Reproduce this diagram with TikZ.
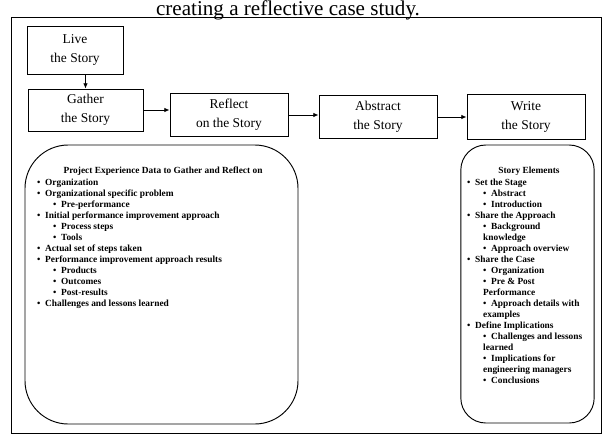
\documentclass[tikz,border=0pt]{standalone}
\usepackage{fontspec}
\setmainfont{Liberation Serif}
\usetikzlibrary{arrows.meta,positioning}
\newcommand{\lvlone}[1]{\textbullet\enspace#1}
\newcommand{\lvltwo}[1]{\hspace*{1.7em}\textbullet\enspace#1}
\newcommand{\lvlcont}[1]{\hspace*{1.7em}#1}

\begin{document}
\begin{tikzpicture}[x=.03cm,y=-.03cm,
    stage/.style={draw,thick,align=center,minimum width=3.54cm,
      minimum height=1.28cm,inner sep=2pt,font=\fontsize{11.5}{16}\selectfont},
    panel/.style={draw,thick},
    listtitle/.style={font=\fontsize{8}{9.4}\selectfont\bfseries},
    listtext/.style={align=left,anchor=north west,inner sep=0pt,
      font=\fontsize{8}{9.4}\selectfont\bfseries},
    flow/.style={-{Latex[length=4.5pt,width=4pt]},thick}]
  \useasboundingbox (0,0) rectangle (604,439);
  % Page frame and the caption line on its top edge.
  \draw[thick] (11,17) rectangle (601,433);
  \node[anchor=base,font=\fontsize{18}{20}\selectfont] (caption) at (288,15)
    {creating a reflective case study.};

  % The five steps of the story.
  \node[stage,minimum width=2.88cm,minimum height=1.44cm] (live) at (75,50)
    {Live\\the Story};
  \node[stage,minimum width=3.45cm,minimum height=1.26cm] (gather)
    at (85.5,110) {Gather\\the Story};
  \node[stage] (reflect) at (229,115) {Reflect\\on the Story};
  \node[stage] (abstract) at (378,117) {Abstract\\the Story};
  \node[stage,minimum height=1.34cm] (write) at (526,117) {Write\\the Story};
  \draw[flow] (live.south -| gather.north) -- (gather.north);
  \draw[flow] (gather.east) -- (gather.east -| reflect.west);
  \draw[flow] (reflect.east) -- (reflect.east -| abstract.west);
  \draw[flow] (abstract.east) -- (write.west);

  % Data gathered while living the project.
  \node[panel,minimum width=8.19cm,minimum height=8.37cm,
    rounded corners=1.3cm] (datapanel) at (161.5,284.5) {};
  \node[listtitle] (datatitle) at (163,171)
    {Project Experience Data to Gather and Reflect on};
  \node[listtext] (datalist) at (37,178.5) {%
    \lvlone{Organization}\\
    \lvlone{Organizational specific problem}\\
    \lvltwo{Pre-performance}\\
    \lvlone{Initial performance improvement approach}\\
    \lvltwo{Process steps}\\
    \lvltwo{Tools}\\
    \lvlone{Actual set of steps taken}\\
    \lvlone{Performance improvement approach results}\\
    \lvltwo{Products}\\
    \lvltwo{Outcomes}\\
    \lvltwo{Post-results}\\
    \lvlone{Challenges and lessons learned}};

  % What goes into the written case.
  \node[panel,minimum width=4cm,minimum height=8.34cm,
    rounded corners=.75cm] (elempanel) at (527.5,284) {};
  \node[listtitle] (elemtitle) at (529,171) {Story Elements};
  \node[listtext] (elemlist) at (467,178.5) {%
    \lvlone{Set the Stage}\\
    \lvltwo{Abstract}\\
    \lvltwo{Introduction}\\
    \lvlone{Share the Approach}\\
    \lvltwo{Background}\\
    \lvlcont{knowledge}\\
    \lvltwo{Approach overview}\\
    \lvlone{Share the Case}\\
    \lvltwo{Organization}\\
    \lvltwo{Pre \& Post}\\
    \lvlcont{Performance}\\
    \lvltwo{Approach details with}\\
    \lvlcont{examples}\\
    \lvlone{Define Implications}\\
    \lvltwo{Challenges and lessons}\\
    \lvlcont{learned}\\
    \lvltwo{Implications for}\\
    \lvlcont{engineering managers}\\
    \lvltwo{Conclusions}};
\end{tikzpicture}
\end{document}
